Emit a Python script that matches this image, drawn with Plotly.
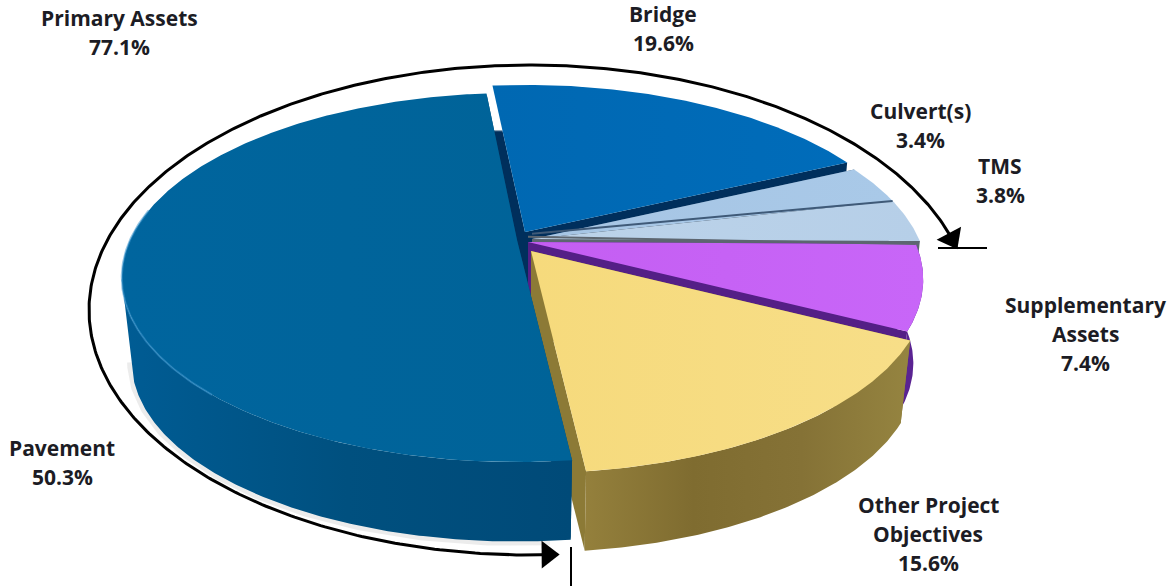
import math
import plotly.graph_objects as go

# Shares of the programme, clockwise from the top of the disc
categories = ["Bridge", "Culvert(s)", "TMS", "Supplementary Assets", "Other Project Objectives", "Pavement"]
shares = [19.6, 3.4, 3.8, 7.4, 15.6, 50.3]
primary_assets = ["Pavement", "Bridge", "Culvert(s)", "TMS"]

# Appearance of each slice
top_colors = {
    "Bridge": ["#0068b2", "#006cba"],
    "Culvert(s)": ["#a6c5e4", "#a9c9e8"],
    "TMS": ["#bcd3e9", "#b6cfe8"],
    "Supplementary Assets": ["#c45ef2", "#c866f8"],
    "Other Project Objectives": ["#f6da7c", "#f7de88"],
    "Pavement": ["#00659e", "#006398"],
}
wall_colors = {
    "Supplementary Assets": ["#5a2392", "#5a2392"],
    "Other Project Objectives": ["#94803c", "#7f6c30", "#857236", "#958440"],
    "Pavement": ["#005c94", "#00507f", "#004a78"],
}
inner_colors = {
    "Bridge": "#002f5c",
    "Culvert(s)": "#38587a",
    "TMS": "#5c6670",
    "Supplementary Assets": "#541f86",
    "Other Project Objectives": "#8c7a36",
    "Pavement": "#00466f",
}
# Horizontal and vertical displacement of the exploded slices
explode = {
    "Bridge": (-2, -8),
    "Culvert(s)": (5, -1),
    "TMS": (5, -1),
    "Supplementary Assets": (1, 2),
    "Other Project Objectives": (4, 11),
    "Pavement": (-10, 0),
}

# Perspective view of the disc
CX, CY = 527, 240
PERSP = 0.203
SCALE_X, SCALE_Y = 387, 177
DEPTH = 85
BOTTOM_SCALE = 0.975
START_ANGLE = -5.8
WALL_HORIZON = 258  # the curved wall turns out of sight past this bearing


def project(angle, radius, offset, level=0.0):
    u = radius * math.sin(math.radians(angle))
    v = -radius * math.cos(math.radians(angle))
    w = 1 - PERSP * v
    shrink = 1 - (1 - BOTTOM_SCALE) * level
    return (CX + offset[0] + SCALE_X * u / w * shrink,
            CY + offset[1] + SCALE_Y * v / w * shrink + DEPTH * level)


def angle_range(a0, a1):
    n = max(2, int((a1 - a0) * 2))
    return [a0 + (a1 - a0) * i / n for i in range(n + 1)]


def polygon(points, colors, gradient="horizontal", stops=None):
    xs = [p[0] for p in points] + [points[0][0]]
    ys = [p[1] for p in points] + [points[0][1]]
    span = (min(xs), max(xs)) if gradient == "horizontal" else (min(ys), max(ys))
    if stops is None:
        stops = [i / (len(colors) - 1) for i in range(len(colors))]
    return go.Scatter(
        x=xs, y=ys, mode="lines", line=dict(width=0), fill="toself",
        fillgradient=dict(type=gradient, colorscale=[[s, c] for s, c in zip(stops, colors)],
                          start=span[0], stop=span[1]),
        hoverinfo="skip", showlegend=False,
    )


fig = go.Figure()

angle = START_ANGLE
spans = {}
for name, share in zip(categories, shares):
    spans[name] = (angle, angle + share * 3.6)
    angle += share * 3.6

# Soft contact shadow under the large slice
shadow_sweep = angle_range(176, WALL_HORIZON)
shadow = [project(a, 1, explode["Pavement"], 1) for a in shadow_sweep]
fig.add_trace(go.Scatter(x=[p[0] for p in shadow], y=[p[1] for p in shadow], mode="lines",
                         line=dict(color="rgba(110,110,110,0.13)", width=9),
                         hoverinfo="skip", showlegend=False))

for name in categories:
    a0, a1 = spans[name]
    off = explode[name]
    sweep = angle_range(a0, a1)
    # Cut faces along both straight edges
    for edge in (a0, a1):
        quad = [project(0, 0, off), project(edge, 1, off),
                project(edge, 1, off, 1), project(0, 0, off, 1)]
        if name == "Bridge" and edge == a0:
            fig.add_trace(polygon(quad, ["#ffffff", "#ffffff", "#002f5c", "#002f5c"], "vertical",
                                  [0, 0.19, 0.2, 1]))
        else:
            fig.add_trace(polygon(quad, [inner_colors[name]] * 2))
    # Outer curved wall, only where it faces the viewer
    if name in wall_colors:
        visible = angle_range(a0, min(a1, WALL_HORIZON))
        wall = [project(a, 1, off) for a in visible] + [project(a, 1, off, 1) for a in reversed(visible)]
        fig.add_trace(polygon(wall, wall_colors[name]))
    # Top face
    face = [project(0, 0, off)] + [project(a, 1, off) for a in sweep]
    fig.add_trace(polygon(face, top_colors[name]))

# Thin dividers between the pale slices
for name, color in (("TMS", "#3f5a78"), ("Supplementary Assets", "#5d6670")):
    a0 = spans[name][0]
    off = explode[name]
    p, q = project(0, 0.03, off), project(a0, 1, off)
    fig.add_trace(go.Scatter(x=[p[0], q[0]], y=[p[1], q[1]], mode="lines",
                             line=dict(color=color, width=2), hoverinfo="skip", showlegend=False))

# Light catching the rim of the pavement slice
rim_span = angle_range(222, 280)
rim = [project(a, 1, explode["Pavement"]) for a in rim_span]
fig.add_trace(go.Scatter(x=[p[0] for p in rim], y=[p[1] for p in rim], mode="lines",
                         line=dict(color="rgba(60,150,205,0.55)", width=2),
                         hoverinfo="skip", showlegend=False))

# Bracket around the primary assets, with an arrowhead on each end
ARC_X, ARC_Y = 530, 240
ARC_PERSP = 0.2857
ARC_SX, ARC_SY = 422.6, 225


def arc_point(angle_deg):
    u = math.sin(math.radians(angle_deg))
    v = -math.cos(math.radians(angle_deg))
    w = 1 - ARC_PERSP * v
    return ARC_X + ARC_SX * u / w, ARC_Y + ARC_SY * v / w


primary_total = sum(s for n, s in zip(categories, shares) if n in primary_assets)
arc_end = spans["TMS"][1] + 360 + 1.2
arc_start = arc_end - primary_total * 3.6 + 3
arc = [arc_point(a) for a in angle_range(arc_start, arc_end)]
fig.add_trace(go.Scatter(x=[p[0] for p in arc], y=[p[1] for p in arc], mode="lines",
                         line=dict(color="#000000", width=3),
                         hoverinfo="skip", showlegend=False))
for (tip, before) in ((arc[0], arc[8]), (arc[-1], arc[-8])):
    heading = math.degrees(math.atan2(tip[0] - before[0], -(tip[1] - before[1])))
    back = math.radians(heading)
    fig.add_trace(go.Scatter(
        x=[tip[0] - 10 * math.sin(back)], y=[tip[1] + 10 * math.cos(back)],
        mode="markers", marker=dict(symbol="triangle-up", size=24, angle=heading, color="#000000", line=dict(width=0)),
        hoverinfo="skip", showlegend=False))

fig.add_shape(type="line", x0=938, x1=987, y0=248, y1=248, line=dict(color="#000000", width=2))
fig.add_shape(type="line", x0=571, x1=571, y0=547, y1=586, line=dict(color="#000000", width=2))

# Callouts, one annotation per text line
value_of = dict(zip(categories, shares))
callouts = [
    (["Primary Assets", f"{primary_total:.1f}%"], 119, 18),
    (["Bridge", f"{value_of['Bridge']}%"], 663, 14),
    (["Culvert(s)", f"{value_of['Culvert(s)']}%"], 920, 111),
    (["TMS", f"{value_of['TMS']}%"], 1000, 166),
    (["Supplementary", "Assets", f"{value_of['Supplementary Assets']}%"], 1085, 305),
    (["Other Project", "Objectives", f"{value_of['Other Project Objectives']}%"], 928, 505),
    (["Pavement", f"{value_of['Pavement']}%"], 62, 448),
]
for lines, x, y in callouts:
    for i, line in enumerate(lines):
        fig.add_annotation(x=x, y=y + i * 29, text=line, showarrow=False, xanchor="center", yanchor="middle",
                           font=dict(family="Open Sans", size=21, color="#1c1c24", weight="bold"))

fig.update_layout(
    width=1171, height=588, margin=dict(l=0, r=0, t=0, b=0),
    paper_bgcolor="#ffffff", plot_bgcolor="#ffffff", showlegend=False,
    xaxis=dict(range=[0, 1171], visible=False, fixedrange=True),
    yaxis=dict(range=[588, 0], visible=False, fixedrange=True),
)
fig.write_html("out.html")
